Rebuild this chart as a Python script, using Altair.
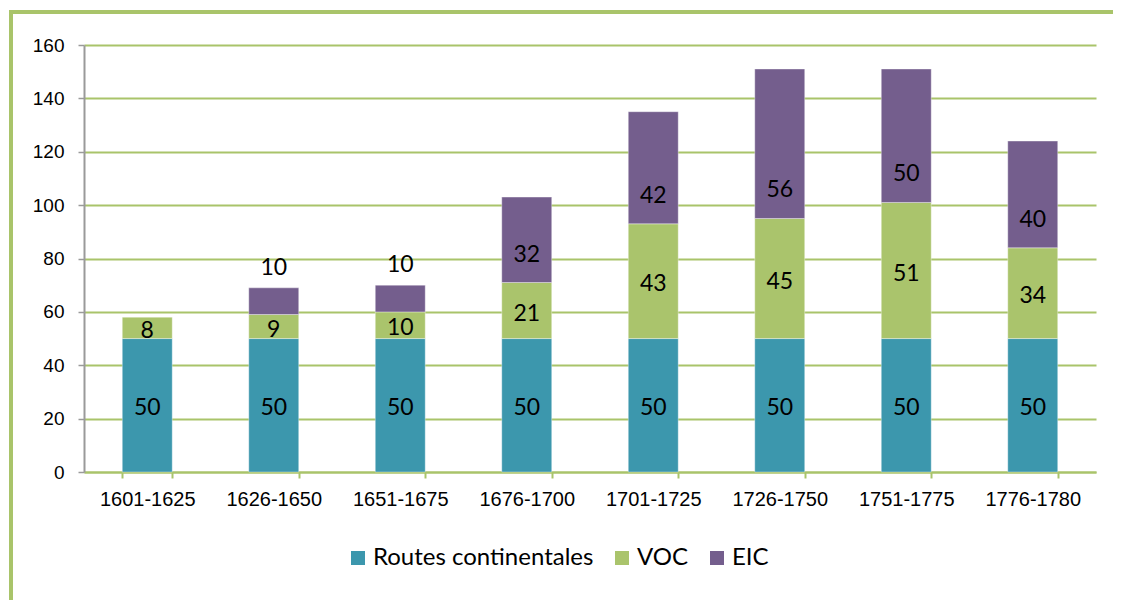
import altair as alt
import pandas as pd

periods = ["1601-1625", "1626-1650", "1651-1675", "1676-1700",
           "1701-1725", "1726-1750", "1751-1775", "1776-1780"]
series_names = ["Routes continentales", "VOC", "EIC"]
routes = [50, 50, 50, 50, 50, 50, 50, 50]
voc = [8, 9, 10, 21, 43, 45, 51, 34]
eic = [0, 10, 10, 32, 42, 56, 50, 40]
colors = ["#3C97AD", "#AAC46C", "#745E8D"]

GREEN = "#A9C46A"
GRAY = "#9A9A9A"
AXIS_FONT = "Arial, Liberation Sans, sans-serif"
LABEL_FONT = "Lato"

rows = []
for i, p in enumerate(periods):
    base = 0
    for k, (name, vals) in enumerate(zip(series_names, [routes, voc, eic])):
        v = vals[i]
        if v:
            if name == "EIC":
                place = "outside" if v <= 10 else "low"
            else:
                place = "mid"
            rows.append(dict(period=p, series=name, order=k, value=v,
                             y0=base, y1=base + v, mid=base + v / 2, place=place))
        base += v
df = pd.DataFrame(rows)

x_enc = alt.X("period:N", sort=periods, title=None,
              scale=alt.Scale(paddingInner=0.605, paddingOuter=0.3025),
              axis=alt.Axis(labelAngle=0, labelFont=AXIS_FONT, labelFontSize=20,
                            labelColor="#000000", labelPadding=11,
                            domainColor=GREEN, domainWidth=2,
                            tickColor=GREEN, tickWidth=2, tickSize=6, tickBand="extent",
                            grid=False))

bars = alt.Chart(df).mark_bar(stroke="#FFFFFF", strokeWidth=0.6, strokeOpacity=0.6).encode(
    x=x_enc,
    y=alt.Y("y0:Q", title=None,
            scale=alt.Scale(domain=[0, 160], nice=False),
            axis=alt.Axis(values=[0, 20, 40, 60, 80, 100, 120, 140, 160],
                          labelFont=AXIS_FONT, labelFontSize=19, labelColor="#000000",
                          labelPadding=14, domainColor=GRAY, domainWidth=2,
                          tickColor=GRAY, tickWidth=1.5, tickSize=6,
                          grid=True, gridColor=GREEN, gridWidth=2)),
    y2="y1:Q",
    color=alt.Color("series:N", sort=series_names,
                    scale=alt.Scale(domain=series_names, range=colors),
                    legend=alt.Legend(orient="none", legendX=262, legendY=501,
                                      direction="horizontal", title=None,
                                      symbolType="square", symbolSize=196,
                                      symbolStrokeWidth=0, symbolOpacity=1,
                                      labelFont=LABEL_FONT, labelFontSize=24,
                                      labelColor="#000000", labelOffset=3,
                                      labelLimit=400,
                                      columnPadding=16, padding=0)),
    order=alt.Order("order:Q"),
)

mid_labels = alt.Chart(df).transform_filter("datum.place == 'mid'").mark_text(
    font=LABEL_FONT, fontSize=23, color="#000000", baseline="middle", dy=3
).encode(x=alt.X("period:N", sort=periods), y=alt.Y("mid:Q"), text="value:Q")

low_labels = alt.Chart(df).transform_filter("datum.place == 'low'").mark_text(
    font=LABEL_FONT, fontSize=23, color="#000000", baseline="middle", dy=-28
).encode(x=alt.X("period:N", sort=periods), y=alt.Y("y0:Q"), text="value:Q")

outside_labels = alt.Chart(df).transform_filter("datum.place == 'outside'").mark_text(
    font=LABEL_FONT, fontSize=23, color="#000000", baseline="middle", dy=-20
).encode(x=alt.X("period:N", sort=periods), y=alt.Y("y1:Q"), text="value:Q")

frame = alt.Chart(pd.DataFrame({"f": [0]})).mark_rect(
    filled=False, stroke=GREEN, strokeWidth=4
).encode(x=alt.value(-73), x2=alt.value(1200), y=alt.value(-33), y2=alt.value(700))

chart = alt.layer(frame, bars, mid_labels, low_labels, outside_labels).properties(
    width=1012, height=427,
    autosize=alt.AutoSizeParams(type="none"),
    padding={"left": 76, "top": 37, "right": 17, "bottom": 128},
    background="#FFFFFF",
).configure_view(strokeWidth=0)

chart.save("out.html", embed_options={"renderer": "svg", "actions": False})
